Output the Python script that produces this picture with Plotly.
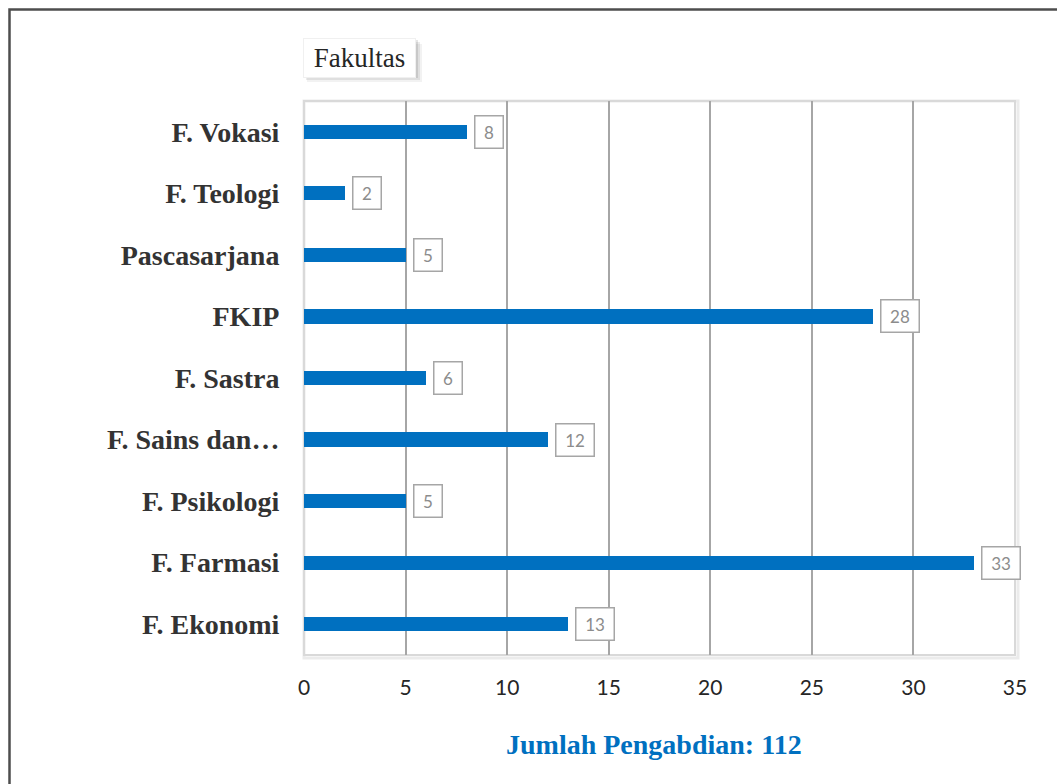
import plotly.graph_objects as go

# data (bottom to top)
fakultas = ["F. Ekonomi", "F. Farmasi", "F. Psikologi", "F. Sains dan…",
            "F. Sastra", "FKIP", "Pascasarjana", "F. Teologi", "F. Vokasi"]
jumlah = [13, 33, 5, 12, 6, 28, 5, 2, 8]
x_ticks = [0, 5, 10, 15, 20, 25, 30, 35]
judul = "Fakultas"
catatan = "Jumlah Pengabdian: 112"

W, H = 1057, 784
L, R, T, B = 304, 42, 101, 129
pw, ph = W - L - R, H - T - B


def px(x):
    return (x - L) / pw


def py(y):
    return (H - B - y) / ph


fig = go.Figure(go.Bar(
    x=jumlah,
    y=fakultas,
    orientation="h",
    width=0.23,
    marker=dict(color="#0070C0", line=dict(width=0)),
    hoverinfo="skip",
))

# data labels in boxes
for f, v in zip(fakultas, jumlah):
    t = str(v)
    fig.add_annotation(
        x=v, y=f, xref="x", yref="y", text=t, showarrow=False,
        xanchor="left", xshift=7, width=10 * len(t) + 7, align="center",
        font=dict(family="Lato, Open Sans, sans-serif", size=17, color="#8c8c8c"),
        bgcolor="white", bordercolor="#a6a6a6", borderwidth=1.5, borderpad=5,
    )

shapes = []
# shadow of the plot frame
shapes.append(dict(type="rect", xref="paper", yref="paper",
                   x0=0, x1=px(W - R + 3), y0=py(H - B + 3), y1=1,
                   line=dict(color="rgba(0,0,0,0.08)", width=3), layer="below"))
# plot frame
shapes.append(dict(type="rect", xref="paper", yref="paper",
                   x0=0, x1=1, y0=0, y1=1,
                   line=dict(color="#d9d9d9", width=2), layer="below"))
# outer border of the image
shapes.append(dict(type="path", xref="paper", yref="paper",
                   path=f"M {px(9.5)},{py(H + 40)} L {px(9.5)},{py(9.5)} L {px(W + 40)},{py(9.5)}",
                   line=dict(color="#4d4d4d", width=2.5)))
# soft shadow behind the title box
for k, a in [(6, 0.05), (4, 0.08), (2, 0.10)]:
    shapes.append(dict(type="rect", xref="paper", yref="paper",
                       x0=px(304 + k / 2), x1=px(416 + k), y0=py(76 + k), y1=py(38 + k),
                       fillcolor=f"rgba(0,0,0,{a})", line=dict(width=0)))

fig.add_annotation(
    x=px(303), y=py(38), xref="paper", yref="paper", xanchor="left", yanchor="top",
    text=judul, showarrow=False, width=105, height=32, align="center",
    font=dict(family="Liberation Serif, Times New Roman, serif", size=27, color="#262626"),
    bgcolor="white", bordercolor="#f0f0f0", borderwidth=1, borderpad=3,
)

fig.add_annotation(
    x=px(654), y=py(744), xref="paper", yref="paper", xanchor="center", yanchor="middle",
    text=f"<b>{catatan}</b>", showarrow=False,
    font=dict(family="Liberation Serif, Times New Roman, serif", size=28, color="#0070C0"),
)

fig.update_layout(
    width=W, height=H,
    margin=dict(l=L, r=R, t=T, b=B, pad=0),
    paper_bgcolor="white", plot_bgcolor="white",
    showlegend=False,
    bargap=0,
    shapes=shapes,
    xaxis=dict(
        range=[0, 35], tickvals=x_ticks, showgrid=True,
        gridcolor="#a6a6a6", gridwidth=2, zeroline=False, showline=False,
        ticks="outside", ticklen=0, ticklabelstandoff=14,
        tickfont=dict(family="Lato, Open Sans, sans-serif", size=21, color="#262626"),
        fixedrange=True,
    ),
    yaxis=dict(
        categoryorder="array", categoryarray=fakultas,
        range=[-0.5, len(fakultas) - 0.5],
        showgrid=False, zeroline=False, showline=False,
        ticks="outside", ticklen=0, ticklabelstandoff=18,
        tickfont=dict(family="Liberation Serif, Times New Roman, serif", size=28, color="#333333"),
        tickprefix="<b>", ticksuffix="</b>",
        fixedrange=True,
    ),
)

fig.write_html("out.html", config={"displayModeBar": False},
               post_script="document.body.style.margin='0';")
